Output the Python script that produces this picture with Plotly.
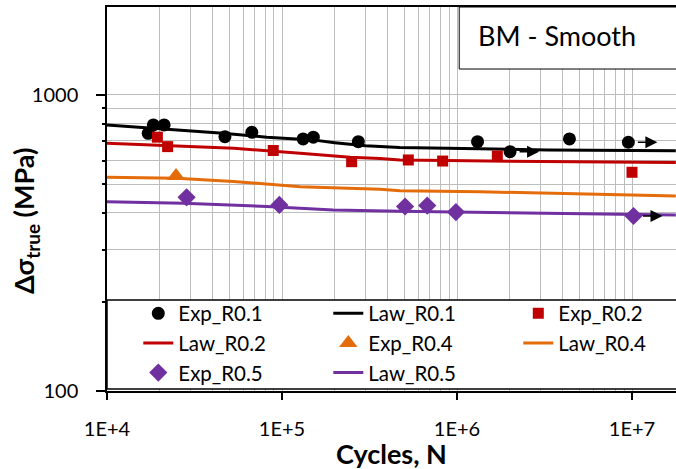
import numpy as np
import plotly.graph_objects as go

# ---------------- data ----------------
exp_r01_n = [17200, 18400, 21200, 47200, 67200, 132000, 151000, 273000, 1310000, 2010000, 4390000, 9530000]
exp_r01_s = [742, 792, 792, 723, 748, 710, 720, 695, 695, 643, 710, 692]
exp_r01_runout = [9, 11]

exp_r02_n = [19400, 22200, 89100, 250000, 527000, 828000, 1700000, 10000000]
exp_r02_s = [720, 669, 649, 595, 603, 598, 622, 548]

exp_r04_n = [24800]
exp_r04_s = [532]

exp_r05_n = [28500, 96600, 505000, 676000, 986000, 10200000]
exp_r05_s = [451, 425, 420, 423, 402, 390]
exp_r05_runout = [5]

law_r01_n = [1e4, 2.2e4, 4.6e4, 8.2e4, 1.5e5, 2.0e5, 3.0e5, 4.7e5, 8.7e5, 1.35e6, 3.3e6, 1.78e7]
law_r01_s = [792, 766, 742, 720, 705, 690, 673, 664, 661, 658, 652, 648]

law_r02_n = [1e4, 2.2e4, 5.3e4, 1.27e5, 2.45e5, 3.63e5, 4.72e5, 8.73e5, 3.26e6, 1.78e7]
law_r02_s = [687, 675, 661, 635, 616, 610, 603, 600, 596, 591]

law_r04_n = [1e4, 2.5e4, 5.27e4, 1.27e5, 3.63e5, 4.72e5, 1.35e6, 5.05e6, 1.78e7]
law_r04_s = [527, 523, 510, 490, 480, 475, 471, 463, 456]

law_r05_n = [1e4, 2.73e4, 8.18e4, 1.96e5, 4.72e5, 1.35e6, 5.05e6, 1.78e7]
law_r05_s = [436, 431, 420, 409, 405, 402, 398, 393]

x_tick_vals = [1e4, 1e5, 1e6, 1e7]
x_tick_text = ["1E+4", "1E+5", "1E+6", "1E+7"]
y_tick_vals = [100, 1000]
y_tick_text = ["100", "1000"]

BLACK = "#000000"
RED = "#C00000"
ORANGE = "#E46C0A"
PURPLE = "#7030A0"
FONT = "Lato"

fig = go.Figure()

fig.add_trace(go.Scatter(x=exp_r01_n, y=exp_r01_s, mode="markers", name="Exp_R0.1",
                         marker=dict(symbol="circle", size=13, color=BLACK)))
fig.add_trace(go.Scatter(x=law_r01_n, y=law_r01_s, mode="lines", name="Law_R0.1",
                         line=dict(color=BLACK, width=3)))
fig.add_trace(go.Scatter(x=exp_r02_n, y=exp_r02_s, mode="markers", name="Exp_R0.2",
                         marker=dict(symbol="square", size=11, color=RED)))
fig.add_trace(go.Scatter(x=law_r02_n, y=law_r02_s, mode="lines", name="Law_R0.2",
                         line=dict(color=RED, width=3)))
fig.add_trace(go.Scatter(x=exp_r04_n, y=exp_r04_s, mode="markers", name="Exp_R0.4",
                         marker=dict(symbol="triangle-up", size=16, color=ORANGE)))
fig.add_trace(go.Scatter(x=law_r04_n, y=law_r04_s, mode="lines", name="Law_R0.4",
                         line=dict(color=ORANGE, width=3)))
fig.add_trace(go.Scatter(x=exp_r05_n, y=exp_r05_s, mode="markers", name="Exp_R0.5",
                         marker=dict(symbol="diamond", size=14, color=PURPLE)))
fig.add_trace(go.Scatter(x=law_r05_n, y=law_r05_s, mode="lines", name="Law_R0.5",
                         line=dict(color=PURPLE, width=3)))

# run-out arrows
annotations = []
for ns, ss, idxs in [(exp_r01_n, exp_r01_s, exp_r01_runout), (exp_r05_n, exp_r05_s, exp_r05_runout)]:
    for i in idxs:
        annotations.append(dict(
            x=np.log10(ns[i]), y=np.log10(ss[i]), xref="x", yref="y",
            text="", showarrow=True, arrowhead=2, arrowsize=1.6, arrowwidth=1.5,
            arrowcolor=BLACK, ax=-21, ay=0, xshift=29, yshift=0))

annotations.append(dict(x=0.6485, y=0.9245, xref="paper", yref="paper", xanchor="left", yanchor="middle",
                        text="BM - Smooth", showarrow=False, font=dict(family=FONT, size=27, color="#000")))
annotations.append(dict(x=0.5, y=0, xref="paper", yref="paper", xanchor="center", yanchor="middle",
                        yshift=-62, text="<b>Cycles, N</b>", showarrow=False,
                        font=dict(family=FONT, size=27, color="#000")))
annotations.append(dict(x=0, y=0.4427, xref="paper", yref="paper", xanchor="center", yanchor="middle",
                        xshift=-82, textangle=-90, text="<b>Δσ<sub>true</sub> (MPa)</b>", showarrow=False,
                        font=dict(family=FONT, size=27, color="#000")))

shapes = [
    dict(type="rect", xref="paper", yref="paper", x0=0.619, x1=1.02, y0=0.8385, y1=1.0,
         fillcolor="white", line=dict(color=BLACK, width=1), layer="above"),
    dict(type="rect", xref="paper", yref="paper", x0=0.0, x1=1.02, y0=0.005, y1=0.237,
         fillcolor="white", line=dict(color=BLACK, width=1.5), layer="above"),
]

x_minor = [m * 10 ** d for d in range(4, 8) for m in range(2, 10)]
y_minor = [m * 10 ** d for d in range(2, 4) for m in range(2, 10)]

GRID = "#BDBDBD"
fig.update_layout(
    width=676, height=469, autosize=False,
    margin=dict(l=107, r=0, t=7, b=78, autoexpand=False),
    paper_bgcolor="white", plot_bgcolor="white",
    font=dict(family=FONT, size=20, color="#000"),
    showlegend=True,
    legend=dict(orientation="h", x=0.055, y=0.254, xanchor="left", yanchor="top",
                bgcolor="rgba(0,0,0,0)", borderwidth=0, entrywidth=145, entrywidthmode="pixels",
                font=dict(family=FONT, size=20.5, color="#000"), traceorder="normal"),
    annotations=annotations,
    shapes=shapes,
    xaxis=dict(type="log", range=[4, 7.2514], tickvals=x_tick_vals, ticktext=x_tick_text,
               showgrid=True, gridcolor=GRID, gridwidth=1,
               showline=True, linecolor=BLACK, linewidth=1.5, mirror=True,
               ticks="outside", ticklen=7, tickcolor=BLACK, tickwidth=1.5,
               ticklabelstandoff=12, tickfont=dict(family=FONT, size=20),
               minor=dict(tickvals=x_minor, showgrid=True, gridcolor=GRID, gridwidth=1, ticks=""),
               zeroline=False, automargin=False),
    yaxis=dict(type="log", range=[2, 3.297], tickvals=y_tick_vals, ticktext=y_tick_text,
               showgrid=True, gridcolor=GRID, gridwidth=1,
               showline=True, linecolor=BLACK, linewidth=1.5,
               ticks="outside", ticklen=9, tickcolor=BLACK, tickwidth=1.5,
               ticklabelstandoff=14, tickfont=dict(family=FONT, size=20),
               minor=dict(tickvals=y_minor, showgrid=True, gridcolor=GRID, gridwidth=1,
                          ticks="outside", ticklen=3, tickcolor=BLACK),
               zeroline=False, automargin=False),
)

post_js = (
    "document.body.style.margin='0';document.body.style.padding='0';"
    "document.documentElement.style.overflow='hidden';document.body.style.overflow='hidden';"
    "var gd=document.getElementById('{plot_id}');"
    "Plotly.relayout(gd,{width:676,height:469});"
)

fig.write_html("out.html", config={"responsive": False, "displayModeBar": False}, post_script=post_js)
